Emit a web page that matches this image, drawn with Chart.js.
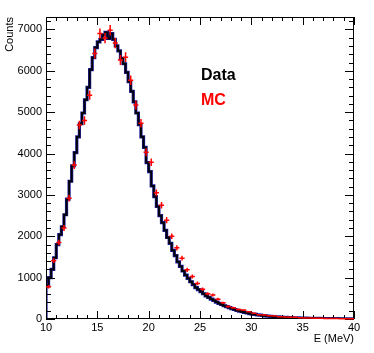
<!DOCTYPE html>
<html>
<head>
<meta charset="utf-8">
<script src="https://cdn.jsdelivr.net/npm/chart.js@4.4.1/dist/chart.umd.min.js"></script>
<style>
  html, body { margin: 0; padding: 0; background: #fff; }
  #wrap { width: 374px; height: 353px; }
</style>
</head>
<body>
<div id="wrap"><canvas id="c" width="374" height="353"></canvas></div>
<script>
// data histogram: 0.25 MeV bins starting at 10 MeV
const dataStart = 10;
const dataWidth = 0.25;
const dataCounts = [
  560, 800, 1000, 1200, 1480, 1800, 2040, 2230, 2520, 2900,
  3330, 3700, 4020, 4400, 4720, 4980, 5300, 5600, 6030, 6320,
  6560, 6700, 6760, 6870, 6930, 6780, 6900, 6760, 6600, 6480,
  6300, 6170, 5960, 5740, 5500, 5250, 4980, 4700, 4400, 4150,
  3780, 3560, 3220, 2960, 2720, 2500, 2330, 2140, 1970, 1830,
  1660, 1530, 1380, 1270, 1160, 1060, 980, 900, 830, 760,
  710, 660, 610, 560, 520, 480, 450, 410, 380, 350,
  320, 300, 275, 250, 230, 210, 190, 175, 160, 145,
  130, 120, 110, 100, 92, 84, 76, 70, 64, 58,
  53, 49, 45, 41, 38, 35, 32, 29, 27, 25,
  23, 21, 19, 18, 16, 15, 14, 13, 12, 11,
  10, 9, 8, 8, 7, 6, 6, 5, 5, 4
];

// MC points: 0.5 MeV bins starting at 10 MeV
const mcStart = 10;
const mcWidth = 0.5;
const mcCounts = [
  780, 1410, 1850, 2200, 2920, 3720, 4690, 4800, 5410, 6420,
  6900, 6790, 6980, 6670, 6260, 6330, 5770, 5170, 4730, 4030,
  3790, 3050, 2750, 2390, 2000, 1720, 1470, 1190, 1030, 860,
  720, 610, 580, 480, 390, 300, 270, 230, 215, 175,
  140, 105, 95, 80, 70, 55, 50, 40, 45, 30,
  25, 22, 20, 16, 14, 12, 10, 9, 8, 6
];

const xTicks = [10, 15, 20, 25, 30, 35, 40];
const yTicks = [0, 1000, 2000, 3000, 4000, 5000, 6000, 7000];

const FONT = "'Liberation Sans', Arial, Helvetica, sans-serif";

// step points from bin edges
const histPts = [{ x: dataStart, y: 0 }];
dataCounts.forEach((v, i) => histPts.push({ x: dataStart + i * dataWidth, y: v }));
histPts.push({ x: dataStart + dataCounts.length * dataWidth, y: dataCounts[dataCounts.length - 1] });

const mcPts = mcCounts.map((v, i) => ({ x: mcStart + (i + 0.5) * mcWidth, y: v }));

// ROOT-like frame with inward ticks
const framePlugin = {
  id: 'frame',
  afterDatasetsDraw(chart) {
    const { ctx, chartArea: a, scales: { x, y } } = chart;
    ctx.save();
    ctx.strokeStyle = '#000';
    ctx.lineWidth = 1;
    const line = (x1, y1, x2, y2) => {
      ctx.beginPath(); ctx.moveTo(x1, y1); ctx.lineTo(x2, y2); ctx.stroke();
    };
    for (let v = 10; v <= 40; v++) {
      const px = Math.round(x.getPixelForValue(v)) + 0.5;
      const len = v % 5 === 0 ? 8 : 4;
      line(px, a.bottom, px, a.bottom - len);
      line(px, a.top, px, a.top + len);
    }
    for (let v = 0; v <= 7200; v += 200) {
      const py = Math.round(y.getPixelForValue(v)) + 0.5;
      const len = v % 1000 === 0 ? 9 : 5;
      line(a.left, py, a.left + len, py);
      line(a.right, py, a.right - len, py);
    }
    ctx.strokeRect(Math.round(a.left) + 0.5, Math.round(a.top) + 0.5,
      Math.round(a.right - a.left) - 1, Math.round(a.bottom - a.top) - 1);
    ctx.restore();
  }
};

// MC crosses with error bars
const mcPlugin = {
  id: 'mcErrors',
  afterDraw(chart) {
    const { ctx, scales: { x, y } } = chart;
    ctx.save();
    ctx.strokeStyle = '#ff0000';
    ctx.lineWidth = 1.5;
    mcPts.forEach(p => {
      const err = Math.sqrt(p.y) * 1.5;
      const cx = x.getPixelForValue(p.x);
      const cy = y.getPixelForValue(p.y);
      ctx.beginPath();
      ctx.moveTo(x.getPixelForValue(p.x - mcWidth / 2), cy);
      ctx.lineTo(x.getPixelForValue(p.x + mcWidth / 2), cy);
      ctx.moveTo(cx, y.getPixelForValue(p.y - err));
      ctx.lineTo(cx, y.getPixelForValue(p.y + err));
      ctx.stroke();
    });
    // legend text
    ctx.font = 'bold 16px ' + FONT;
    ctx.textBaseline = 'alphabetic';
    ctx.fillStyle = '#000';
    ctx.fillText('Data', 201, 80);
    ctx.fillStyle = '#ff0000';
    ctx.fillText('MC', 201, 105);
    ctx.restore();
  }
};

new Chart(document.getElementById('c'), {
  type: 'line',
  data: {
    datasets: [
      {
        data: histPts, stepped: 'after', borderColor: '#000000',
        borderWidth: 1.8, pointRadius: 0, fill: false
      },
      {
        data: histPts, stepped: 'after', borderColor: '#1c1c9c',
        borderWidth: 3.2, pointRadius: 0, fill: false
      }
    ]
  },
  options: {
    responsive: false,
    animation: false,
    events: [],
    layout: { padding: { top: 17, right: 20, left: 0, bottom: 0 } },
    plugins: { legend: { display: false }, tooltip: { enabled: false } },
    scales: {
      x: {
        type: 'linear', min: 10, max: 40,
        grid: { display: false, drawTicks: false },
        border: { display: false },
        afterBuildTicks: s => { s.ticks = xTicks.map(v => ({ value: v })); },
        afterFit: s => { s.height = 34; },
        ticks: {
          color: '#000', padding: 2, maxRotation: 0,
          font: { family: FONT, size: 11 }, callback: v => String(v)
        },
        title: {
          display: true, text: 'E (MeV)', align: 'end', color: '#000',
          font: { family: FONT, size: 11 }, padding: { top: 0, bottom: 7 }
        }
      },
      y: {
        type: 'linear', min: 0, max: 7300,
        grid: { display: false, drawTicks: false },
        border: { display: false },
        afterBuildTicks: s => { s.ticks = yTicks.map(v => ({ value: v })); },
        afterFit: s => { s.width = 46; },
        ticks: {
          color: '#000', padding: 4,
          font: { family: FONT, size: 11 }, callback: v => String(v)
        },
        title: {
          display: true, text: 'Counts', align: 'end', color: '#000',
          font: { family: FONT, size: 11 }, padding: { top: 3, bottom: 0 }
        }
      }
    }
  },
  plugins: [framePlugin, mcPlugin]
});
</script>
</body>
</html>
